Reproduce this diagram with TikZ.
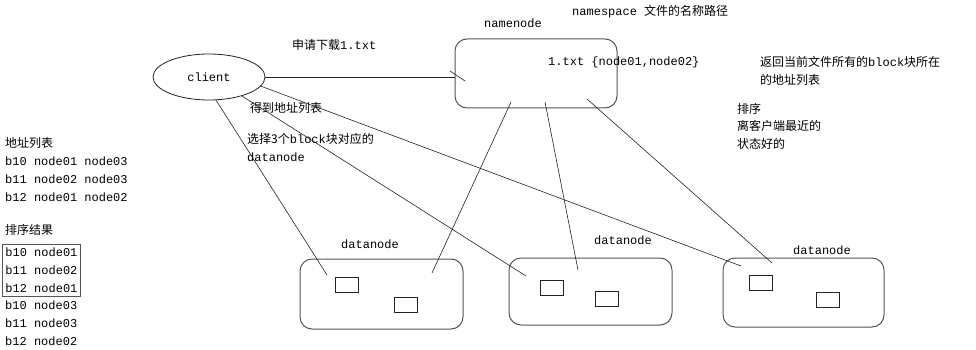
\documentclass[tikz,border=0pt]{standalone}
\usepackage{fontspec}
\setmainfont{Liberation Mono}
\newfontfamily\cjk{Noto Sans CJK SC}
\usepackage{tikz}
\usetikzlibrary{shapes.geometric, positioning}
\definecolor{boxgray}{HTML}{555555}
\definecolor{inkgray}{HTML}{222222}
\tikzset{
  lbl/.style={inner sep=0pt, anchor=west, align=left, font=\fontsize{12}{18}\selectfont},
  zhlbl/.style={lbl, font=\cjk\fontsize{12}{17.5}\selectfont},
  client/.style={ellipse, draw=inkgray, line width=0.8pt, minimum width=112pt, minimum height=46pt, font=\fontsize{12}{18}\selectfont},
  store/.style={rectangle, rounded corners=12pt, draw=boxgray, line width=1pt},
  blk/.style={rectangle, draw=inkgray, line width=0.8pt, minimum width=23pt, minimum height=15pt, inner sep=0pt},
  link/.style={line width=0.6pt, inkgray},
}
\begin{document}
\begin{tikzpicture}[x=1pt, y=-1pt]
\useasboundingbox (0,0) rectangle (976,350);
% client and namenode
\node[client] (cl) at (209,77) {client};
\node[store, minimum width=162pt, minimum height=69pt] (nn) at (536,73.5) {};
\node[lbl, anchor=center] (nnlbl) at (513,23) {namenode};
\node[lbl] (ns) at (572,12) {namespace {\cjk 文件的名称路径}};
\node[lbl] (meta) at (548,62) {1.txt \{node01,node02\}};
% datanodes
\node[store, minimum width=163pt, minimum height=70pt] (dn1) at (381.5,294) {};
\node[store, minimum width=163pt, minimum height=67pt] (dn2) at (590.5,291.5) {};
\node[store, minimum width=161pt, minimum height=69pt] (dn3) at (803.5,292.5) {};
\node[lbl, anchor=center] (dn1lbl) at (370,244) {datanode};
\node[lbl, anchor=center] (dn2lbl) at (623,240) {datanode};
\node[lbl, anchor=center] (dn3lbl) at (822,250) {datanode};
\node[blk] (b1a) at (346.5,284.5) {};
\node[blk] (b1b) at (406,304.5) {};
\node[blk] (b2a) at (552,287.5) {};
\node[blk] (b2b) at (607,299) {};
\node[blk] (b3a) at (760.5,283) {};
\node[blk] (b3b) at (827.5,299.5) {};
% texts on the steps
\node[lbl] (ask) at (292,45) {{\cjk 申请下载}1.txt};
\node[zhlbl] (get) at (250,108) {得到地址列表};
\node[lbl] (pick) at (247,147.5) {{\cjk 选择3个}block{\cjk 块对应的}\\datanode};
\node[lbl] (ret) at (760,71) {{\cjk 返回当前文件所有的}block{\cjk 块所在}\\{\cjk 的地址列表}};
\node[zhlbl] (sort) at (737,126) {排序\\离客户端最近的\\状态好的};
% lists on the left
\node[lbl, anchor=north west] (addr) at (5,137) {{\cjk 地址列表}\\b10 node01 node03\\b11 node02 node03\\b12 node01 node02};
\node[zhlbl, anchor=north west] (rhead) at (5,224) {排序结果};
\node[lbl, anchor=north west, draw=boxgray, line width=0.8pt, inner xsep=3pt, inner ysep=3.5pt] (rtop) at (2,244) {b10 node01\\b11 node02\\b12 node01};
\node[lbl, anchor=north west] (rrest) at (5,301) {b10 node03\\b11 node03\\b12 node02};
% end points inside the boxes
\coordinate (nnin) at (cl.east -| nn.west);
\coordinate (nn1) at (511,102);
\coordinate (nn2) at (545,102);
\coordinate (nn3) at (587,99);
\coordinate (d1c) at (327,275);
\coordinate (d1n) at (432,273);
\coordinate (d2c) at (526,276);
\coordinate (d2n) at (578,270);
\coordinate (d3c) at (741,266);
\coordinate (d3n) at (772,263);
\coordinate (tka) at (450,71);
\coordinate (tkb) at (465,81);
\draw[link] (cl.east) -- (nnin);
\draw[link] (tka) -- (tkb);
\draw[link] (cl.-73) -- (d1c);
\draw[link] (cl.-30) -- (d2c);
\draw[link] (cl.-10) -- (d3c);
\draw[link] (nn1) -- (d1n);
\draw[link] (nn2) -- (d2n);
\draw[link] (nn3) -- (d3n);
\end{tikzpicture}
\end{document}
